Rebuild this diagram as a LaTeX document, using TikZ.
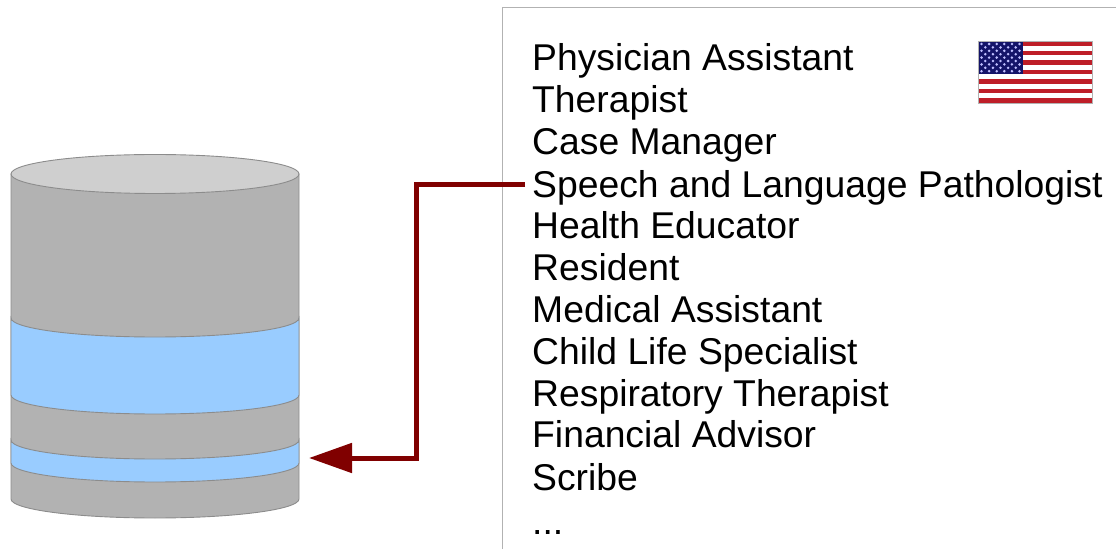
\documentclass[tikz,border=0pt]{standalone}
\usepackage{fontspec}
\setmainfont{Liberation Sans}
\usetikzlibrary{arrows.meta}
\definecolor{cbDarkRed}{RGB}{128,0,0}
\definecolor{cbBand}{RGB}{153,204,255}
\definecolor{cbDisk}{RGB}{178,178,178}
\definecolor{cbDiskTop}{RGB}{207,207,207}
\definecolor{cbOutline}{RGB}{140,140,140}
\definecolor{cbStripe}{RGB}{190,30,40}
\definecolor{cbCanton}{RGB}{20,20,105}
\tikzset{
    >=Stealth,
    role/.style={anchor=base west,inner xsep=7pt,inner ysep=0pt,text height=29pt,text depth=3pt,font=\fontsize{37.3}{42}\selectfont},
    disk/.style={draw=cbOutline,line width=0.9pt,fill=#1},
    link/.style={cbDarkRed,line width=5pt}
}

\begin{document}
\begin{tikzpicture}[x=1pt,y=1pt]
  \useasboundingbox (0,0) rectangle (1116,549);

  % cylinder
  \draw[disk=cbDisk] (11,375) -- (11,50) arc[start angle=180,end angle=360,x radius=144,y radius=19] -- (299,375) -- cycle;
  \draw[disk=cbBand] (11,231) arc[start angle=180,end angle=360,x radius=144,y radius=19] -- (299,154) arc[start angle=360,end angle=180,x radius=144,y radius=19] -- cycle;
  \draw[disk=cbBand] (11,109) arc[start angle=180,end angle=360,x radius=144,y radius=19] -- (299,86) arc[start angle=360,end angle=180,x radius=144,y radius=19] -- cycle;
  \draw[disk=cbDiskTop] (155,375) ellipse[x radius=144,y radius=19.5];

  % frame
  \draw[black!30,line width=1pt] (502,0) -- (502,541) -- (1116,541);

  % roles
  \node[role] (assistant) at (525,478) {Physician Assistant};
  \node[role] (therapist) at (525,436) {Therapist};
  \node[role] (manager) at (525,394) {Case Manager};
  \node[role] (speech) at (525,351) {Speech and Language Pathologist};
  \node[role] (educator) at (525,310) {Health Educator};
  \node[role] (resident) at (525,268) {Resident};
  \node[role] (medical) at (525,226) {Medical Assistant};
  \node[role] (child) at (525,184) {Child Life Specialist};
  \node[role] (respiratory) at (525,142) {Respiratory Therapist};
  \node[role] (financial) at (525,101) {Financial Advisor};
  \node[role] (scribe) at (525,59) {Scribe};
  \node[role] (more) at (525,15) {...};

  % flag
  \fill[white] (978,446) rectangle (1092,508);
  \foreach \n in {0,2,...,12}
    \fill[cbStripe] (978,{508-\n*62/13}) rectangle (1092,{508-(\n+1)*62/13});
  \fill[cbCanton] (978,508) rectangle (1023,475);
  \foreach \r in {0,2,...,8}
    \foreach \c in {0,...,5}
      \fill[white!75!blue] ({981.5+\c*7.6},{505-\r*3.4}) circle (1.4pt);
  \foreach \r in {1,3,...,7}
    \foreach \c in {0,...,4}
      \fill[white!75!blue] ({985.3+\c*7.6},{505-\r*3.4}) circle (1.4pt);
  \draw[black!30,line width=0.8pt] (978,446) rectangle (1092,508);

  % link
  \coordinate (bend) at (416,91);
  \coordinate (slot) at (309,91);
  \draw[link,-{Triangle[length=43pt,width=29pt]}] (speech.west) -| (bend) -- (slot);
\end{tikzpicture}
\end{document}
